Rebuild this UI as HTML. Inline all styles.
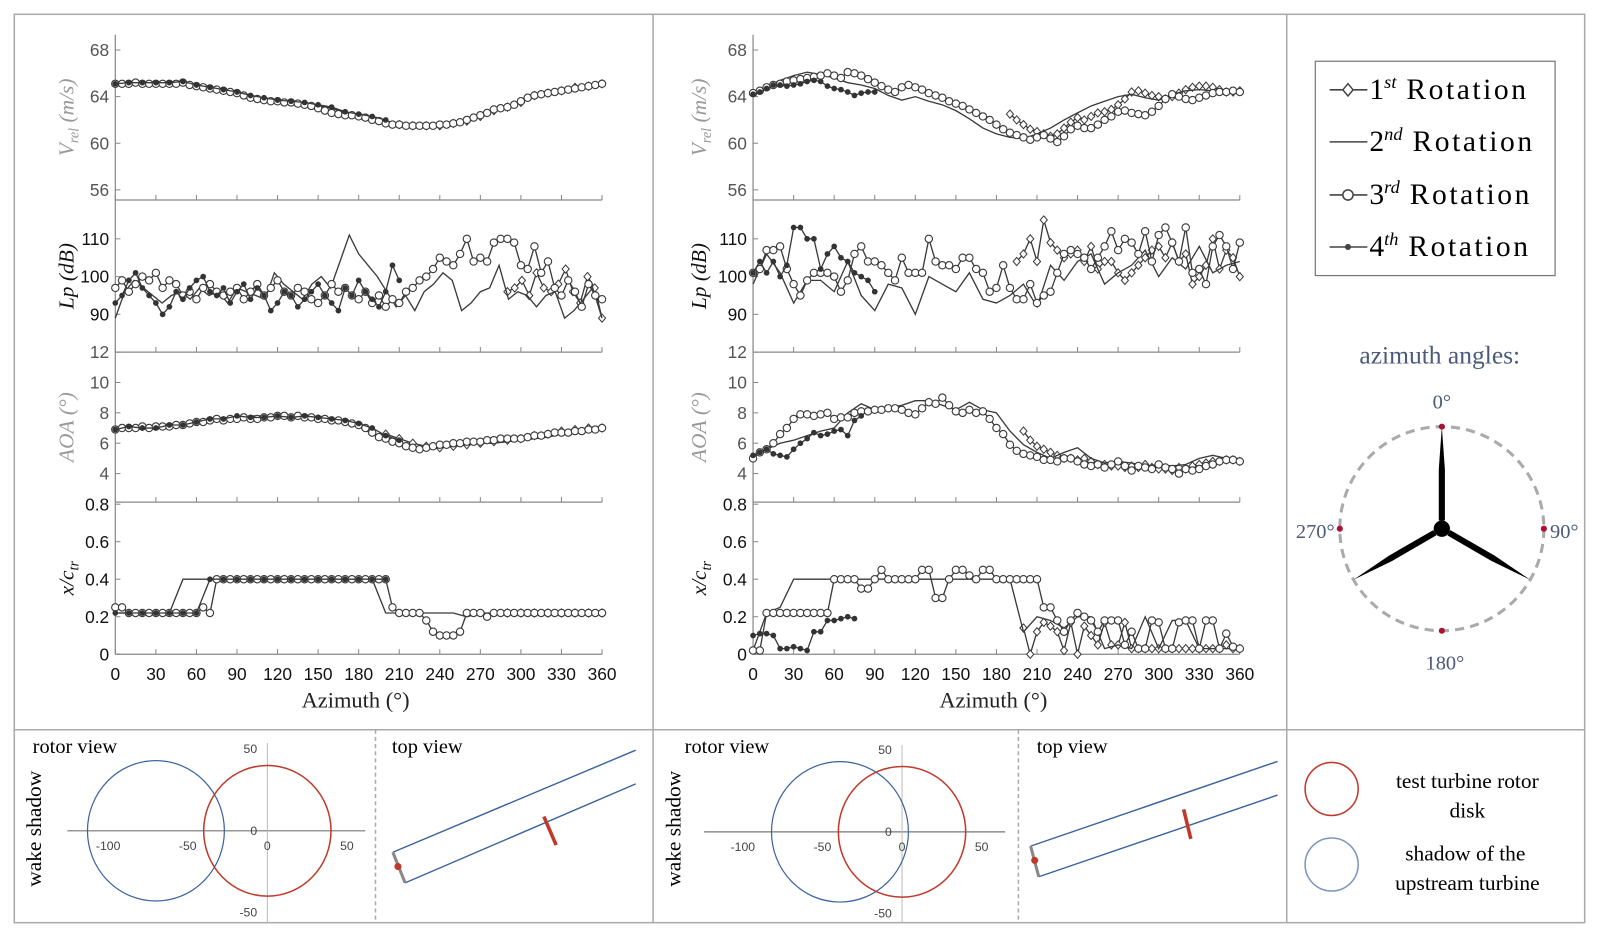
<!DOCTYPE html>
<html><head><meta charset="utf-8"><style>
html,body{margin:0;padding:0;background:#fff;}
svg{display:block;font-family:"Liberation Sans",sans-serif;}
.serif{font-family:"Liberation Serif",serif;}
</style></head><body>
<svg id="fig" width="1600" height="939" viewBox="0 0 1568 920" preserveAspectRatio="none" xmlns="http://www.w3.org/2000/svg">
<g stroke="#aaa" stroke-width="1.5" fill="none">
<rect x="14" y="14" width="1539" height="890"/>
<line x1="640" y1="14" x2="640" y2="904"/>
<line x1="1261" y1="14" x2="1261" y2="904"/>
<line x1="14" y1="715" x2="1553" y2="715"/>
<line x1="368" y1="715" x2="368" y2="904" stroke-dasharray="4,3"/>
<line x1="998" y1="715" x2="998" y2="904" stroke-dasharray="4,3"/>
</g>
<g id="panels"></g>
<g>
<rect x="1289" y="60" width="235" height="210" fill="#fff" stroke="#777" stroke-width="1.2"/>
<g>
<line x1="1303" y1="88" x2="1340" y2="88" stroke="#444" stroke-width="1.5"/>
<path d="M1321,82 L1326,88 L1321,94 L1316,88 Z" fill="#fff" stroke="#444" stroke-width="1.5"/>
<text x="1342" y="97" font-size="29" class="serif">1<tspan dy="-11" font-size="18" font-style="italic">st</tspan><tspan dy="11" textLength="127"> Rotation</tspan></text></g>
<g>
<line x1="1303" y1="139" x2="1340" y2="139" stroke="#444" stroke-width="1.5"/>
<text x="1342" y="148" font-size="29" class="serif">2<tspan dy="-11" font-size="18" font-style="italic">nd</tspan><tspan dy="11" textLength="127"> Rotation</tspan></text></g>
<g>
<line x1="1303" y1="191" x2="1340" y2="191" stroke="#444" stroke-width="1.5"/>
<circle cx="1321" cy="191" r="5" fill="#fff" stroke="#444" stroke-width="1.5"/>
<text x="1342" y="200" font-size="29" class="serif">3<tspan dy="-11" font-size="18" font-style="italic">rd</tspan><tspan dy="11" textLength="127"> Rotation</tspan></text></g>
<g>
<line x1="1303" y1="242" x2="1340" y2="242" stroke="#444" stroke-width="1.5"/>
<circle cx="1321" cy="242" r="3" fill="#444"/>
<text x="1342" y="251" font-size="29" class="serif">4<tspan dy="-11" font-size="18" font-style="italic">th</tspan><tspan dy="11" textLength="127"> Rotation</tspan></text></g>
</g>
<g>
<text x="1411" y="356" font-size="25" class="serif" fill="#4a5a7a" text-anchor="middle">azimuth angles:</text>
<circle cx="1413" cy="518" r="100" fill="none" stroke="#aaa" stroke-width="3" stroke-dasharray="9,6"/>
<g fill="#000">
<path d="M1413,418 L1416,460 L1416,510 L1410,510 L1410,460 Z"/>
<path d="M1413,418 L1416,460 L1416,510 L1410,510 L1410,460 Z" transform="rotate(120 1413 518)"/>
<path d="M1413,418 L1416,460 L1416,510 L1410,510 L1410,460 Z" transform="rotate(240 1413 518)"/>
<circle cx="1413" cy="518" r="8"/></g>
<g fill="#b01030"><circle cx="1413" cy="418" r="3"/><circle cx="1513" cy="518" r="3"/><circle cx="1413" cy="618" r="3"/><circle cx="1313" cy="518" r="3"/></g>
<g font-size="20" class="serif" fill="#4a5a7a">
<text x="1413" y="400" text-anchor="middle">0°</text>
<text x="1519" y="527">90°</text>
<text x="1416" y="656" text-anchor="middle">180°</text>
<text x="1308" y="527" text-anchor="end">270°</text></g>
</g>
<g class="serif" font-size="21">
<circle cx="1305" cy="773" r="26" fill="none" stroke="#c0392b" stroke-width="1.5"/>
<circle cx="1305" cy="847" r="26" fill="none" stroke="#7a96c0" stroke-width="1.5"/>
<text x="1438" y="772" text-anchor="middle">test turbine rotor</text>
<text x="1438" y="801" text-anchor="middle">disk</text>
<text x="1436" y="843" text-anchor="middle">shadow of the</text>
<text x="1438" y="872" text-anchor="middle">upstream turbine</text>
</g>
<g id="wake"></g>
</svg>
<script>
const vrelA_r3=[65.1,65.1,65.1,65.2,65.1,65.1,65.1,65.1,65.1,65.1,65.2,65.0,64.9,64.8,64.7,64.6,64.5,64.4,64.3,64.1,63.9,63.8,63.7,63.6,63.6,63.5,63.5,63.4,63.3,63.2,63.0,62.8,62.6,62.5,62.4,62.4,62.3,62.2,62.0,61.9,61.7,61.6,61.6,61.5,61.5,61.5,61.5,61.5,61.6,61.6,61.7,61.8,62.0,62.2,62.4,62.6,62.9,63.0,63.1,63.3,63.6,63.9,64.1,64.2,64.3,64.4,64.5,64.6,64.7,64.8,64.9,65.0,65.1];
const vrelA_r2=[65.0,65.1,65.1,65.1,65.2,65.1,64.9,64.7,64.5,64.3,64.0,63.8,63.6,63.5,63.4,63.2,63.0,62.6,62.4,62.2,61.9,61.7,61.6,61.5,61.6,61.7,61.9,62.3,62.8,63.1,63.5,64.0,64.3,64.5,64.7,64.9,65.1];
const vrelA_r4=[65.1,65.2,65.2,65.2,65.2,65.3,65.0,64.8,64.6,64.4,64.1,63.9,63.7,63.6,63.5,63.3,63.1,62.7,62.5,62.3,62.0];
const vrelA_r1=[61.8,61.6,61.5,61.5,61.5,61.7,61.9,62.3,62.8,63.1,63.5,64.1,64.3,64.5,64.8,64.9,65.1];
const lpA_r3=[97,99,96,98,100,99,101,97,99,98,95,96,94,97,98,96,95,96,97,94,96,98,95,97,99,96,95,97,96,94,93,95,98,96,97,95,94,96,93,95,92,94,93,96,97,99,100,102,105,104,103,106,110,104,105,104,109,110,110,109,103,102,108,101,104,97,95,99,96,92,98,95,94];
const lpA_r4=[93,95,99,101,97,95,93,90,92,96,94,97,99,100,96,95,97,93,96,98,94,97,95,91,93,96,95,92,94,96,98,95,93,91,97,95,99,96,94,92,96,103,99];
const lpA_r2=[89,96,99,97,95,93,95,96,94,97,95,96,93,97,96,95,94,101,98,96,94,98,100,97,104,111,106,103,100,96,92,95,91,96,98,101,99,91,93,96,97,103,94,96,95,92,95,96,89,91,94,97,89];
const lpA_r1=[96,97,99,95,101,97,96,98,102,96,93,100,97,89];
const aoaA_r3=[6.9,7.0,7.0,7.0,7.1,7.0,7.1,7.1,7.1,7.2,7.2,7.3,7.4,7.4,7.5,7.6,7.5,7.6,7.6,7.7,7.6,7.6,7.7,7.7,7.8,7.8,7.7,7.8,7.7,7.7,7.6,7.6,7.5,7.5,7.4,7.3,7.2,7.0,6.7,6.4,6.3,6.1,6.0,5.8,5.7,5.6,5.7,5.8,5.9,5.9,6.0,6.0,6.1,6.1,6.1,6.2,6.2,6.3,6.3,6.3,6.3,6.4,6.5,6.5,6.6,6.7,6.7,6.7,6.8,6.8,6.9,6.9,7.0];
const aoaA_r2=[6.8,7.0,7.1,7.1,7.2,7.3,7.5,7.6,7.7,7.6,7.8,7.8,7.9,7.8,7.8,7.6,7.5,7.3,7.1,6.6,6.2,6.0,5.7,5.6,5.7,5.8,5.9,6.0,6.0,6.1,6.2,6.3,6.4,6.6,6.7,6.8,6.9];
const aoaA_r4=[6.9,7.1,7.0,7.0,7.2,7.2,7.4,7.6,7.6,7.8,7.7,7.7,7.8,7.7,7.8,7.7,7.6,7.5,7.3,7.0,6.5,6.2];
const aoaA_r1=[6.6,6.3,6.0,5.8,5.7,5.8,5.9,6.0,6.1,6.2,6.3,6.5,6.6,6.8,6.9,7.0,7.0];
const xcA_r3=[0.25,0.25,0.22,0.22,0.22,0.22,0.22,0.22,0.22,0.22,0.22,0.22,0.22,0.25,0.22,0.4,0.4,0.4,0.4,0.4,0.4,0.4,0.4,0.4,0.4,0.4,0.4,0.4,0.4,0.4,0.4,0.4,0.4,0.4,0.4,0.4,0.4,0.4,0.4,0.4,0.4,0.25,0.22,0.22,0.22,0.22,0.18,0.12,0.1,0.1,0.1,0.12,0.22,0.22,0.22,0.2,0.22,0.22,0.22,0.22,0.22,0.22,0.22,0.22,0.22,0.22,0.22,0.22,0.22,0.22,0.22,0.22,0.22];
const xcA_r2=[0.22,0.22,0.22,0.22,0.22,0.4,0.4,0.4,0.4,0.4,0.4,0.4,0.4,0.4,0.4,0.4,0.4,0.4,0.4,0.4,0.22,0.22,0.22,0.22,0.22,0.22,0.2,0.22,0.22,0.22,0.22,0.22,0.22,0.22,0.22,0.22,0.22];
const xcA_r4=[0.22,0.22,0.22,0.22,0.22,0.22,0.22,0.4,0.4,0.4,0.4,0.4,0.4,0.4,0.4,0.4,0.4,0.4,0.4,0.4,0.4];
const xcA_r1=[0.22,0.22,0.22,0.22,0.22,0.22,0.22,0.22];

const vrelB_r3=[64.3,64.5,64.8,65.0,65.1,65.3,65.4,65.5,65.6,65.7,65.8,66.0,65.8,65.6,66.1,66.0,65.8,65.5,65.2,64.9,64.6,64.4,64.8,65.0,64.8,64.6,64.3,64.1,63.9,63.6,63.4,63.2,62.9,62.6,62.3,62.0,61.6,61.2,60.9,60.7,60.5,60.3,60.5,60.7,60.4,60.1,60.6,61.2,61.5,61.3,61.3,61.6,62.0,62.3,62.7,62.8,62.6,62.5,62.4,62.7,63.2,63.8,64.2,64.0,63.8,63.7,63.9,64.1,64.3,64.4,64.4,64.5,64.4];
const vrelB_r2=[64.3,64.9,65.4,65.8,66.1,65.9,65.6,65.2,65.0,64.7,64.1,63.7,64.0,63.6,63.3,62.8,62.1,61.3,60.8,60.5,60.4,60.8,61.3,62.0,62.6,63.2,63.6,64.0,64.2,63.9,63.7,64.2,64.5,64.6,64.5,64.4,64.4];
const vrelB_r4=[64.2,64.4,64.7,65.0,65.0,64.9,65.0,65.1,65.3,65.4,65.3,64.9,64.7,64.6,64.4,64.1,64.3,64.4,64.4];
const vrelB_r1=[62.5,62.0,61.6,61.2,61.0,60.8,60.6,60.8,61.3,61.8,62.2,62.0,62.3,62.6,62.7,62.9,63.3,63.8,64.4,64.5,64.3,64.1,64.0,63.8,64.0,64.3,64.6,64.8,64.9,64.9,64.8,64.6,64.4,64.4,64.5];
const lpB_r3=[101,102,107,107,108,102,98,95,99,101,101,101,100,96,99,106,108,104,104,103,101,99,105,101,101,101,110,104,103,103,102,105,105,102,101,96,97,103,97,94,94,98,93,95,96,101,106,107,106,105,102,105,108,112,107,110,109,106,112,104,111,113,109,104,113,101,102,98,108,111,108,102,109];
const lpB_r2=[98,106,101,93,99,99,96,104,95,91,98,97,90,100,98,96,101,94,93,95,98,92,103,99,104,106,98,101,103,107,100,105,102,108,101,103,104];
const lpB_r4=[101,104,101,104,100,103,113,113,110,110,102,106,108,105,104,101,100,99,96];
const lpB_r1=[104,106,110,104,115,109,107,105,106,107,104,108,102,104,104,101,99,101,103,105,107,108,105,109,104,106,98,100,103,110,102,107,105,100];
const aoaB_r3=[5.0,5.4,5.6,6.0,6.6,7.0,7.6,7.9,7.9,7.8,7.9,8.0,7.6,7.7,7.7,8.0,8.1,8.1,8.2,8.2,8.3,8.3,8.2,8.0,7.9,8.3,8.7,8.6,9.0,8.5,8.1,8.0,8.2,8.0,8.1,7.6,7.0,6.6,5.9,5.5,5.3,5.2,5.1,4.9,4.9,4.8,5.0,5.0,4.8,4.6,4.5,4.6,4.4,4.6,4.8,4.5,4.2,4.5,4.4,4.3,4.6,4.4,4.3,4.0,4.3,4.2,4.3,4.5,4.6,4.8,4.9,4.9,4.8];
const aoaB_r2=[5.2,5.6,6.0,6.2,6.5,6.8,7.0,8.0,8.6,8.2,8.3,8.5,8.8,8.8,8.5,8.2,8.7,8.2,8.0,6.8,5.9,5.4,5.0,5.4,5.7,5.0,4.7,4.8,4.7,4.5,4.6,4.5,4.6,5.0,5.2,5.0,5.0];
const aoaB_r4=[5.2,5.4,5.6,5.3,5.2,5.1,5.6,6.0,6.3,6.7,6.5,6.6,6.8,6.9,6.5,7.5,7.8];
const aoaB_r1=[6.8,6.2,5.8,5.6,5.4,5.2,5.0,5.0,4.9,5.0,4.8,4.6,4.6,4.5,4.5,4.4,4.5,4.4,4.6,4.4,4.3,4.3,4.2,4.4,4.3,4.5,4.6,4.7,4.8,4.8,4.9,4.9,4.8];
const xcB_r3=[0.02,0.02,0.22,0.22,0.22,0.22,0.22,0.22,0.22,0.22,0.22,0.22,0.4,0.4,0.4,0.4,0.35,0.35,0.4,0.45,0.4,0.4,0.4,0.4,0.4,0.45,0.45,0.3,0.3,0.4,0.45,0.45,0.42,0.4,0.45,0.45,0.4,0.4,0.4,0.4,0.4,0.4,0.4,0.25,0.25,0.18,0.12,0.18,0.22,0.2,0.18,0.12,0.18,0.18,0.18,0.05,0.12,0.03,0.03,0.18,0.17,0.03,0.03,0.17,0.18,0.18,0.03,0.18,0.18,0.03,0.11,0.04,0.03];
const xcB_r2=[0.02,0.22,0.25,0.4,0.4,0.4,0.4,0.4,0.4,0.4,0.4,0.4,0.4,0.4,0.4,0.4,0.4,0.4,0.4,0.4,0.12,0.2,0.18,0.14,0.2,0.2,0.03,0.05,0.03,0.2,0.03,0.18,0.18,0.03,0.03,0.03,0.03];
const xcB_r4=[0.1,0.11,0.11,0.1,0.03,0.03,0.04,0.03,0.02,0.12,0.12,0.18,0.18,0.19,0.2,0.19];
const xcB_r1=[0.14,0.0,0.12,0.17,0.15,0.12,0.02,0.17,0.0,0.15,0.1,0.05,0.17,0.05,0.05,0.17,0.03,0.03,0.03,0.03,0.03,0.03,0.03,0.03,0.03,0.03,0.03,0.03,0.03,0.03,0.05,0.03,0.03];

const azTicks=[0,30,60,90,120,150,180,210,240,270,300,330,360];
const vrelTicks=[56,60,64,68];
const lpTicks=[90,100,110];
const aoaTicks=[4,6,8,10,12];
const xcTicks=[0,0.2,0.4,0.6,0.8];

const NS='http://www.w3.org/2000/svg';
function el(tag,attrs,parent){const e=document.createElementNS(NS,tag);for(const k in attrs)e.setAttribute(k,attrs[k]);if(parent)parent.appendChild(e);return e;}

const subplots=[
 {key:'vrel',name:'vrel',vmax:68,vmin:56,pmax:49,pmin:186,top:34,bot:196,ticks:vrelTicks,tc:'#555',label:'V',sub:'rel',unit:' (m/s)',lc:'#999'},
 {key:'lp',name:'lp',vmax:110,vmin:90,pmax:234,pmin:308,top:196,bot:345,ticks:lpTicks,tc:'#111',label:'Lp',unit:' (dB)',lc:'#111'},
 {key:'aoa',name:'aoa',vmax:12,vmin:4,pmax:345,pmin:464,top:345,bot:492,ticks:aoaTicks,tc:'#555',label:'AOA',unit:' (°)',lc:'#999'},
 {key:'xc',name:'xc',vmax:0.8,vmin:0,pmax:494,pmin:641,top:492,bot:641,ticks:xcTicks,tc:'#111',label:'x/c',sub:'tr',unit:'',lc:'#111'}
];
const panelData={
 A:{vrel:[[1,200,360,vrelA_r1],[2,0,360,vrelA_r2],[3,0,360,vrelA_r3],[4,0,200,vrelA_r4]],
    lp:[[1,290,360,lpA_r1],[2,0,360,lpA_r2],[3,0,360,lpA_r3],[4,0,210,lpA_r4]],
    aoa:[[1,200,360,aoaA_r1],[2,0,360,aoaA_r2],[3,0,360,aoaA_r3],[4,0,210,aoaA_r4]],
    xc:[[1,290,360,xcA_r1],[2,0,360,xcA_r2],[3,0,360,xcA_r3],[4,0,200,xcA_r4]]},
 B:{vrel:[[1,190,360,vrelB_r1],[2,0,360,vrelB_r2],[3,0,360,vrelB_r3],[4,0,90,vrelB_r4]],
    lp:[[1,195,360,lpB_r1],[2,0,360,lpB_r2],[3,0,360,lpB_r3],[4,0,90,lpB_r4]],
    aoa:[[1,200,360,aoaB_r1],[2,0,360,aoaB_r2],[3,0,360,aoaB_r3],[4,0,80,aoaB_r4]],
    xc:[[1,200,360,xcB_r1],[2,0,360,xcB_r2],[3,0,360,xcB_r3],[4,0,75,xcB_r4]]}
};

const root=document.getElementById('panels');
function drawPanel(id,x0,labelX){
 const W=477;
 const g=el('g',{},root);
 
 
 const xs=a=>x0+a/360*W;
 subplots.forEach(sp=>{
  const ys=v=>sp.pmax+(sp.vmax-v)/(sp.vmax-sp.vmin)*(sp.pmin-sp.pmax);
  const sg=el('g',{},g);
  
  
  el('line',{x1:x0,y1:sp.top,x2:x0,y2:sp.bot,stroke:'#888','stroke-width':1.2},sg);
  el('line',{x1:x0,y1:sp.bot,x2:x0+W,y2:sp.bot,stroke:'#888','stroke-width':1.2},sg);
  azTicks.forEach(a=>{el('line',{x1:xs(a),y1:sp.bot,x2:xs(a),y2:sp.bot-5,stroke:'#888','stroke-width':1},sg);});
  sp.ticks.forEach(t=>{
   el('line',{x1:x0,y1:ys(t),x2:x0+5,y2:ys(t),stroke:'#888','stroke-width':1},sg);
   const tx=el('text',{x:x0-6,y:ys(t)+6,'text-anchor':'end','font-size':17,fill:sp.tc},sg);
   tx.textContent=String(t);
   
   
  });
  const cy=(sp.top+sp.bot)/2;
  const lab=el('text',{x:0,y:0,'text-anchor':'middle','font-size':21,'font-style':'italic',fill:sp.lc,'class':'serif',transform:`translate(${labelX},${cy}) rotate(-90)`},sg);
  
  
  const t1=el('tspan',{},lab);t1.textContent=sp.label;
  if(sp.sub){const t2=el('tspan',{dy:5,'font-size':14},lab);t2.textContent=sp.sub;const t3=el('tspan',{dy:-5},lab);t3.textContent=sp.unit||'';}
  else{const t3=el('tspan',{},lab);t3.textContent=sp.unit;}
  panelData[id][sp.key].forEach(([rot,a0,a1,vals])=>{
   const n=vals.length;const step=(a1-a0)/(n-1);
   const pts=vals.map((v,i)=>[xs(a0+i*step),ys(v)]);
   const sg2=el('g',{},sg);
   
   
   el('polyline',{points:pts.map(p=>p[0].toFixed(1)+','+p[1].toFixed(1)).join(' '),fill:'none',stroke:'#3a3a3a','stroke-width':1.3},sg2);
   pts.forEach(p=>{
    let m;
    if(rot===1)m=el('path',{d:`M${p[0]},${p[1]-4}L${p[0]+3.5},${p[1]}L${p[0]},${p[1]+4}L${p[0]-3.5},${p[1]}Z`,fill:'#fff',stroke:'#3a3a3a','stroke-width':1},sg2);
    else if(rot===3)m=el('circle',{cx:p[0],cy:p[1],r:3.6,fill:'#fff',stroke:'#3a3a3a','stroke-width':1.1},sg2);
    else if(rot===4)m=el('circle',{cx:p[0],cy:p[1],r:2.8,fill:'#333'},sg2);
    if(m){}
   });
  });
 });
 azTicks.forEach(a=>{
  const t=el('text',{x:xs(a),y:666,'text-anchor':'middle','font-size':17,fill:'#111'},g);
  t.textContent=String(a);
  
  
 });
 const xt=el('text',{x:x0+W/2-3,y:693,'text-anchor':'middle','font-size':22,'class':'serif',fill:'#222'},g);
 xt.textContent='Azimuth (°)';
 
 
}
drawPanel('A',113,72);
drawPanel('B',738,692);

const wake=document.getElementById('wake');
const wakeCfg=[
 {id:'A',ox:262,oy:814,sx:1.56,sy:1.6,blue:[-70,0,43,43],red:[0,0,40,40],left:66,right:358,top:728,bottom:904,labX:40,labTitleX:32,top1:[385,835,623,735],top2:[397,865,623,768],bar:[533,800,545,828],dot:[390,849],tvX:384},
 {id:'B',ox:884,oy:815,sx:1.56,sy:1.6,blue:[-39,0,43,43],red:[0,0,40,40],left:690,right:985,top:730,bottom:904,labX:667,labTitleX:671,top1:[1010,829,1252,746],top2:[1018,859,1252,779],bar:[1160,793,1167,822],dot:[1014,843],tvX:1016}
];
wakeCfg.forEach(c=>{
 const g=el('g',{},wake);
 
 
 const X=v=>c.ox+v*c.sx, Y=v=>c.oy-v*c.sy;
 el('line',{x1:c.left,y1:c.oy,x2:c.right,y2:c.oy,stroke:'#777','stroke-width':1.2},g);
 el('line',{x1:c.ox,y1:c.top,x2:c.ox,y2:c.bottom,stroke:'#bbb','stroke-width':1},g);
 [-100,-50,0,50].forEach(v=>{const t=el('text',{x:X(v),y:c.oy+19,'text-anchor':'middle','font-size':12,fill:'#444'},g);t.textContent=String(v);});
 [[50,'50'],[0,'0'],[-50,'-50']].forEach(([v,s])=>{const t=el('text',{x:c.ox-10,y:Y(v)+4,'text-anchor':'end','font-size':12,fill:'#444'},g);t.textContent=s;});
 el('ellipse',{cx:X(c.blue[0]),cy:Y(c.blue[1]),rx:c.blue[2]*c.sx,ry:c.blue[3]*c.sy,fill:'none',stroke:'#3b62a0','stroke-width':1.2},g);
 el('ellipse',{cx:X(c.red[0]),cy:Y(c.red[1]),rx:c.red[2]*c.sx,ry:c.red[3]*c.sy,fill:'none',stroke:'#c0392b','stroke-width':1.5},g);
 const rv=el('text',{x:c.labTitleX,y:738,'font-size':20,'class':'serif'},g);rv.textContent='rotor view';
 
 const ws=el('text',{x:0,y:0,'font-size':21,'class':'serif','text-anchor':'middle',transform:`translate(${c.labX},${812}) rotate(-90)`},g);ws.textContent='wake shadow';
 
 const tv=el('text',{x:c.tvX,y:738,'font-size':20,'class':'serif'},g);tv.textContent='top view';
 
 el('line',{x1:c.top1[0],y1:c.top1[1],x2:c.top1[2],y2:c.top1[3],stroke:'#3b62a0','stroke-width':1.4},g);
 el('line',{x1:c.top2[0],y1:c.top2[1],x2:c.top2[2],y2:c.top2[3],stroke:'#3b62a0','stroke-width':1.4},g);
 el('line',{x1:c.top1[0],y1:c.top1[1],x2:c.top2[0],y2:c.top2[1],stroke:'#888','stroke-width':3},g);
 el('circle',{cx:c.dot[0],cy:c.dot[1],r:3.5,fill:'#c0392b'},g);
 el('line',{x1:c.bar[0],y1:c.bar[1],x2:c.bar[2],y2:c.bar[3],stroke:'#c0392b','stroke-width':3.5},g);
});
</script>
</body></html>
